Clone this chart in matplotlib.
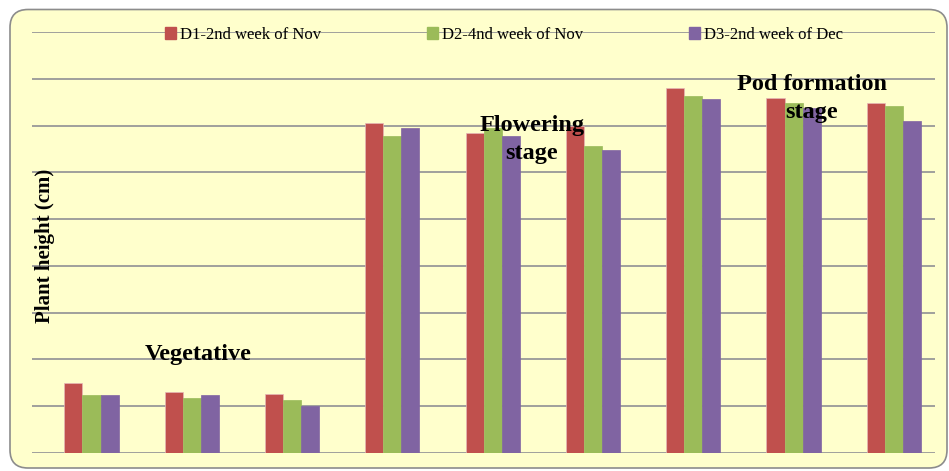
import matplotlib.pyplot as plt
from matplotlib.patches import FancyBboxPatch, Patch
from matplotlib.transforms import IdentityTransform
import numpy as np

# sowing dates (series) and plant height per observation (cm)
series = ['D1-2nd week of Nov', 'D2-4nd week of Nov', 'D3-2nd week of Dec']
colors = ['#C0504D', '#9BBB59', '#8064A2']
d1 = [15.0, 13.0, 12.6, 70.6, 68.4, 69.9, 78.1, 75.8, 74.9]
d2 = [12.4, 11.8, 11.3, 67.8, 69.5, 65.7, 76.4, 74.8, 74.2]
d3 = [12.4, 12.4, 10.0, 69.4, 67.8, 64.8, 75.6, 73.7, 71.0]
stages = [('Vegetative', 1.066, 21.0), ('Flowering\nstage', 4.39, 67.0),
          ('Pod formation\nstage', 7.18, 75.7)]

W, H = 949, 471
fig = plt.figure(figsize=(W / 100, H / 100), dpi=100)
fig.patch.set_facecolor('white')

# rounded chart-area background, drawn in pixels
box = FancyBboxPatch((10, 3), 937, 458.5, boxstyle='round,pad=0,rounding_size=18',
                     transform=IdentityTransform(), facecolor='#FFFFCC',
                     edgecolor='#8C8C8C', linewidth=1.2, zorder=-5)
fig.patches.append(box)

ax = fig.add_axes([32 / W, 18 / H, 903 / W, 421 / H])
ax.set_facecolor('none')

x = np.arange(len(d1))
bw = 0.18
for i, (vals, c) in enumerate(zip([d1, d2, d3], colors)):
    ax.bar(x + (i - 1) * bw, vals, bw, color=c, edgecolor='#E6B8B7' if i == 0 else c,
           linewidth=0.5, zorder=2)

for v in range(0, 100, 10):
    ax.axhline(v, color='#999999', lw=1.3, zorder=1)

ax.set_xlim(-0.593, 8.41)
ax.set_ylim(0, 90)
ax.set_xticks([])
ax.set_yticks([])
for s in ax.spines.values():
    s.set_visible(False)

serif = 'Liberation Serif'
for txt, xx, yy in stages:
    ax.text(xx, yy, txt, ha='center', va='center', fontfamily=serif,
            fontweight='bold', fontsize=17.5, linespacing=1.45, zorder=3)

fig.text(45 / W, 1 - 246 / H, 'Plant height (cm)', rotation=90, ha='center',
         va='center', fontfamily=serif, fontweight='bold', fontsize=15)

handles = [Patch(facecolor=c, edgecolor=c) for c in colors]
fig.legend(handles, series, loc='center', bbox_to_anchor=(504 / W, 1 - 35 / H),
           ncol=3, frameon=False, prop={'family': serif, 'size': 12},
           handlelength=0.7, handleheight=0.7, handletextpad=0.25,
           columnspacing=6.3, borderpad=0)

fig.savefig('out.png', dpi=100)
